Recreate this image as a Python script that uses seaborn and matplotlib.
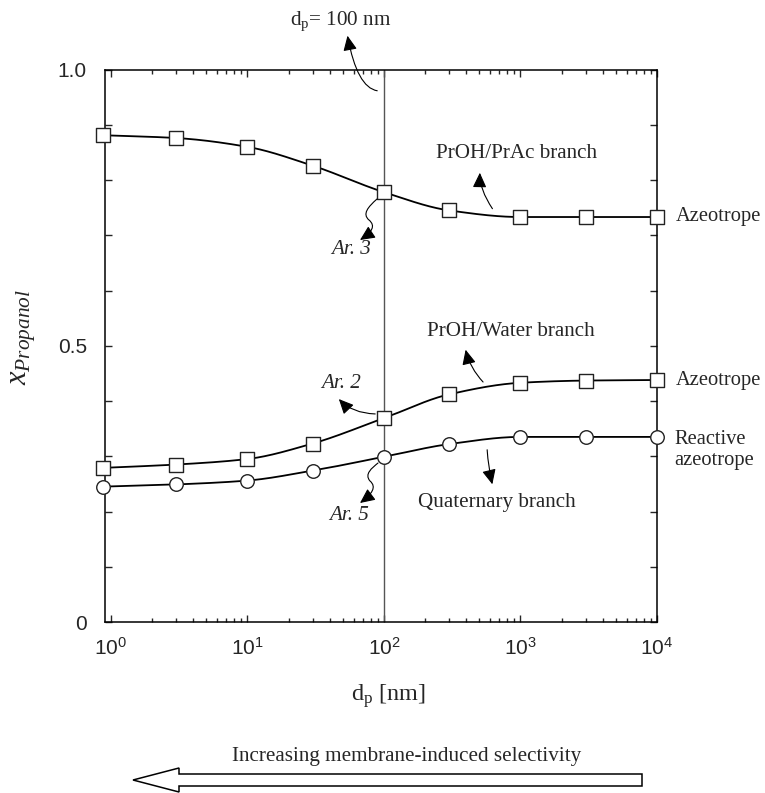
import numpy as np
import matplotlib
matplotlib.use("Agg")
import matplotlib.pyplot as plt
import seaborn as sns
import matplotlib.patches as mpatches
import matplotlib.transforms as mtransforms
from matplotlib.path import Path
from matplotlib.ticker import FixedLocator, FuncFormatter, LogLocator, NullFormatter

# ---------------- data ----------------
dp = [0.88, 3, 10, 30, 100, 300, 1000, 3000, 10000]
prac_branch = [0.881, 0.876, 0.860, 0.826, 0.778, 0.745, 0.733, 0.733, 0.733]
water_branch = [0.279, 0.285, 0.295, 0.323, 0.369, 0.412, 0.433, 0.437, 0.438]
quat_branch = [0.245, 0.249, 0.256, 0.274, 0.299, 0.322, 0.335, 0.335, 0.335]
x_major_ticks = [1, 10, 100, 1000, 10000]
y_ticks = [0.0, 0.1, 0.2, 0.3, 0.4, 0.5, 0.6, 0.7, 0.8, 0.9, 1.0]
y_tick_labels = {0.0: "0", 0.5: "0.5", 1.0: "1.0"}
dp_selected = 100

# ---------------- style ----------------
sns.set_style("ticks")
plt.rcParams["font.family"] = ["Liberation Sans", "DejaVu Sans"]
plt.rcParams["mathtext.fontset"] = "custom"
plt.rcParams["mathtext.rm"] = "Liberation Serif"
plt.rcParams["mathtext.it"] = "Liberation Serif:italic"
plt.rcParams["mathtext.bf"] = "Liberation Serif:bold"

W, H = 765, 793
fig = plt.figure(figsize=(W / 100, H / 100), dpi=100)
ax = fig.add_axes([105 / W, 1 - 622 / H, (657 - 105) / W, (622 - 69.5) / H])

# pixel transform (origin top-left) for annotations
PX = mtransforms.Affine2D().scale(1 / W, -1 / H).translate(0, 1) + fig.transFigure
SERIF = ["Liberation Serif", "DejaVu Serif"]
FS = 15.2


def smooth(xs, ys, n=400):
    """Monotone cubic curve through the points (log-x), for drawing only."""
    lx = np.log10(np.asarray(xs, float))
    y = np.asarray(ys, float)
    h = np.diff(lx)
    d = np.diff(y) / h
    m = np.zeros_like(y)
    m[0], m[-1] = d[0], d[-1]
    for k in range(1, len(y) - 1):
        if d[k - 1] * d[k] <= 0:
            m[k] = 0.0
        else:
            w1 = 2 * h[k] + h[k - 1]
            w2 = h[k] + 2 * h[k - 1]
            m[k] = (w1 + w2) / (w1 / d[k - 1] + w2 / d[k])
    xx = np.linspace(lx[0], lx[-1], n)
    idx = np.clip(np.searchsorted(lx, xx) - 1, 0, len(lx) - 2)
    t = (xx - lx[idx]) / h[idx]
    h00 = 2 * t**3 - 3 * t**2 + 1
    h10 = t**3 - 2 * t**2 + t
    h01 = -2 * t**3 + 3 * t**2
    h11 = t**3 - t**2
    yy = h00 * y[idx] + h10 * h[idx] * m[idx] + h01 * y[idx + 1] + h11 * h[idx] * m[idx + 1]
    return 10**xx, yy


ax.set_xscale("log")
ax.axvline(dp_selected, color="#555555", lw=1.0, zorder=1)

for series, marker, s in [(prac_branch, "s", 100), (water_branch, "s", 100), (quat_branch, "o", 95)]:
    xs, ys = smooth(dp, series)
    sns.lineplot(x=xs, y=ys, ax=ax, color="black", linewidth=1.3, sort=False,
                 estimator=None, zorder=2)
    sns.scatterplot(x=dp, y=series, ax=ax, marker=marker, s=s, color="white",
                    edgecolor="#222222", linewidth=1.0, zorder=3, clip_on=False)

ax.set_xlim(0.905, 1e4)
ax.set_ylim(0, 1.0)
ax.xaxis.set_major_locator(FixedLocator(x_major_ticks))
ax.xaxis.set_minor_locator(LogLocator(base=10, subs=np.arange(2, 10)))
ax.xaxis.set_minor_formatter(NullFormatter())
ax.yaxis.set_major_locator(FixedLocator(y_ticks))
ax.yaxis.set_major_formatter(FuncFormatter(lambda v, p: y_tick_labels.get(round(v, 1), "")))

ax.tick_params(which="both", direction="in", top=True, right=True, width=1.0)
ax.tick_params(which="major", length=5)
ax.tick_params(which="minor", length=3)
ax.tick_params(axis="y", pad=13, labelsize=15)
ax.tick_params(axis="x", pad=11, labelsize=15)
for sp in ax.spines.values():
    sp.set_linewidth(1.1)
    sp.set_color("black")

ax.set_xlabel(r"d$_{\rm p}$ [nm]", fontsize=17.5, family=SERIF)
ax.xaxis.set_label_coords((388 - 105) / 552, -(682 - 622) / 552.5)
ax.set_ylabel("")
fig.text(24, 337, r"$x_{Propanol}$", transform=PX, rotation=90, ha="center",
         va="center", fontsize=22, family=SERIF)

# ---------------- annotations ----------------
def txt(x, y, s, ha="center", va="center", style="normal", fs=FS, **kw):
    fig.text(x, y, s, transform=PX, ha=ha, va=va, fontsize=fs, family=SERIF,
             style=style, **kw)


def arrow(tail, head, cs="arc3,rad=0"):
    a = mpatches.FancyArrowPatch(tail, head, transform=PX, connectionstyle=cs,
                                 arrowstyle="-|>,head_length=0.9,head_width=0.42",
                                 mutation_scale=10, color="black", lw=0.8)
    fig.add_artist(a)


def squiggle(verts):
    codes = [Path.MOVETO] + [Path.CURVE4] * (len(verts) - 1)
    a = mpatches.FancyArrowPatch(path=Path(verts, codes), transform=PX,
                                 arrowstyle="-|>,head_length=0.9,head_width=0.42",
                                 mutation_scale=10, color="black", lw=0.8)
    fig.add_artist(a)


txt(341, 21, r"d$_{\rm p}$= 100 nm")
arrow((380, 91), (347, 33), "angle3,angleA=180,angleB=100")

txt(517, 153, "PrOH/PrAc branch")
arrow((494, 211), (480, 170), "angle3,angleA=125,angleB=85")

txt(511, 332, "PrOH/Water branch")
arrow((485, 384), (465, 347), "arc3,rad=-0.15")

txt(497, 502, "Quaternary branch")
arrow((487, 447), (493, 487), "arc3,rad=0.05")

txt(351, 250, "Ar. 3", style="italic")
squiggle([(377, 199), (368, 207), (362, 214), (369, 220), (376, 226), (372, 232), (360, 240)])

txt(341, 383, "Ar. 2", style="italic")
arrow((378, 414), (337, 397), "angle3,angleA=180,angleB=130")

txt(349, 516, "Ar. 5", style="italic")
squiggle([(378, 463), (372, 468), (364, 474), (370, 481), (377, 487), (372, 494), (360, 503)])

txt(676, 217, "Azeotrope", ha="left", fs=14.8)
txt(676, 380, "Azeotrope", ha="left", fs=14.8)
fig.text(674, 450, "Reactive\nazeotrope", transform=PX, ha="left", va="center",
         fontsize=14.8, family=SERIF, linespacing=1.2)

txt(407, 757, "Increasing membrane-induced selectivity")
big = mpatches.Polygon([(133, 780), (179, 768), (179, 774), (642, 774), (642, 786),
                        (179, 786), (179, 792)], closed=True, transform=PX,
                       facecolor="white", edgecolor="black", lw=1.1)
fig.add_artist(big)

fig.savefig("out.png", dpi=100)
